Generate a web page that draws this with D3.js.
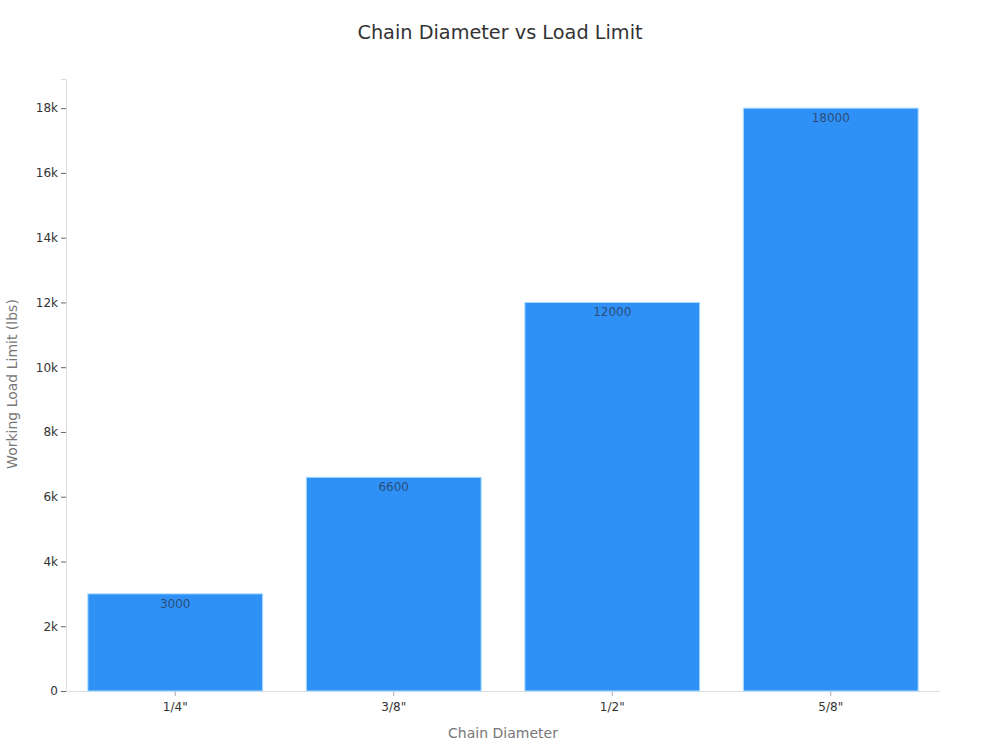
<!DOCTYPE html>
<html><head><meta charset="utf-8">
<script src="https://cdn.jsdelivr.net/npm/d3@7"></script>
<style>body{margin:0;background:#fff}svg{display:block;font-family:"DejaVu Sans",sans-serif}</style>
</head><body><svg id="c" width="1000" height="750"></svg>
<script>
const categories = ['1/4"', '3/8"', '1/2"', '5/8"'];
const values = [3000, 6600, 12000, 18000];
const yTicks = [0, 2000, 4000, 6000, 8000, 10000, 12000, 14000, 16000, 18000];
const title = "Chain Diameter vs Load Limit";
const xTitle = "Chain Diameter";
const yTitle = "Working Load Limit (lbs)";

const svg = d3.select("#c");
const m = {l: 66, r: 60, t: 79, b: 59};
const W = 1000, H = 750;
const x = d3.scaleBand().domain(categories).range([m.l, W - m.r]).paddingInner(0.2).paddingOuter(0.1);
const y = d3.scaleLinear().domain([0, 18900]).range([H - m.b, m.t]);

svg.append("text").attr("x", 500).attr("y", 39).attr("text-anchor", "middle")
  .attr("font-size", 19.3).attr("fill", "#333").text(title);

const gy = svg.append("g").attr("transform", `translate(${m.l},0)`)
  .call(d3.axisLeft(y).tickValues(yTicks).tickSize(5).tickPadding(3)
    .tickFormat(d => d === 0 ? "0" : (d / 1000) + "k"));
gy.attr("font-family", "DejaVu Sans");
gy.select(".domain").attr("stroke", "#ddd");
gy.selectAll(".tick line").attr("stroke", "#666");
gy.selectAll(".tick text").attr("font-size", 12).attr("fill", "#333");

const gx = svg.append("g").attr("transform", `translate(0,${H - m.b})`)
  .call(d3.axisBottom(x).tickSize(5).tickPadding(6).tickSizeOuter(0));
gx.attr("font-family", "DejaVu Sans");
gx.select(".domain").attr("stroke", "#ddd");
gx.selectAll(".tick line").attr("stroke", "#aaa");
gx.selectAll(".tick text").attr("font-size", 12).attr("fill", "#333");

svg.append("g").selectAll("rect").data(values).join("rect")
  .attr("x", (d, i) => x(categories[i]))
  .attr("y", d => y(d))
  .attr("width", x.bandwidth())
  .attr("height", d => y(0) - y(d))
  .attr("fill", "#2f91f5").attr("stroke", "#a8dcff").attr("stroke-width", 1);

svg.append("g").selectAll("text").data(values).join("text")
  .attr("x", (d, i) => x(categories[i]) + x.bandwidth() / 2)
  .attr("y", d => y(d) + 14)
  .attr("text-anchor", "middle").attr("font-size", 12).attr("fill", "#2a3f5f").attr("fill-opacity", 0.85)
  .text(d => d);

svg.append("text").attr("x", (m.l + W - m.r) / 2).attr("y", 738).attr("text-anchor", "middle")
  .attr("font-size", 14).attr("fill", "#777").text(xTitle);
svg.append("text").attr("transform", `translate(17,384) rotate(-90)`)
  .attr("text-anchor", "middle").attr("font-size", 14).attr("fill", "#777").text(yTitle);
</script></body></html>
